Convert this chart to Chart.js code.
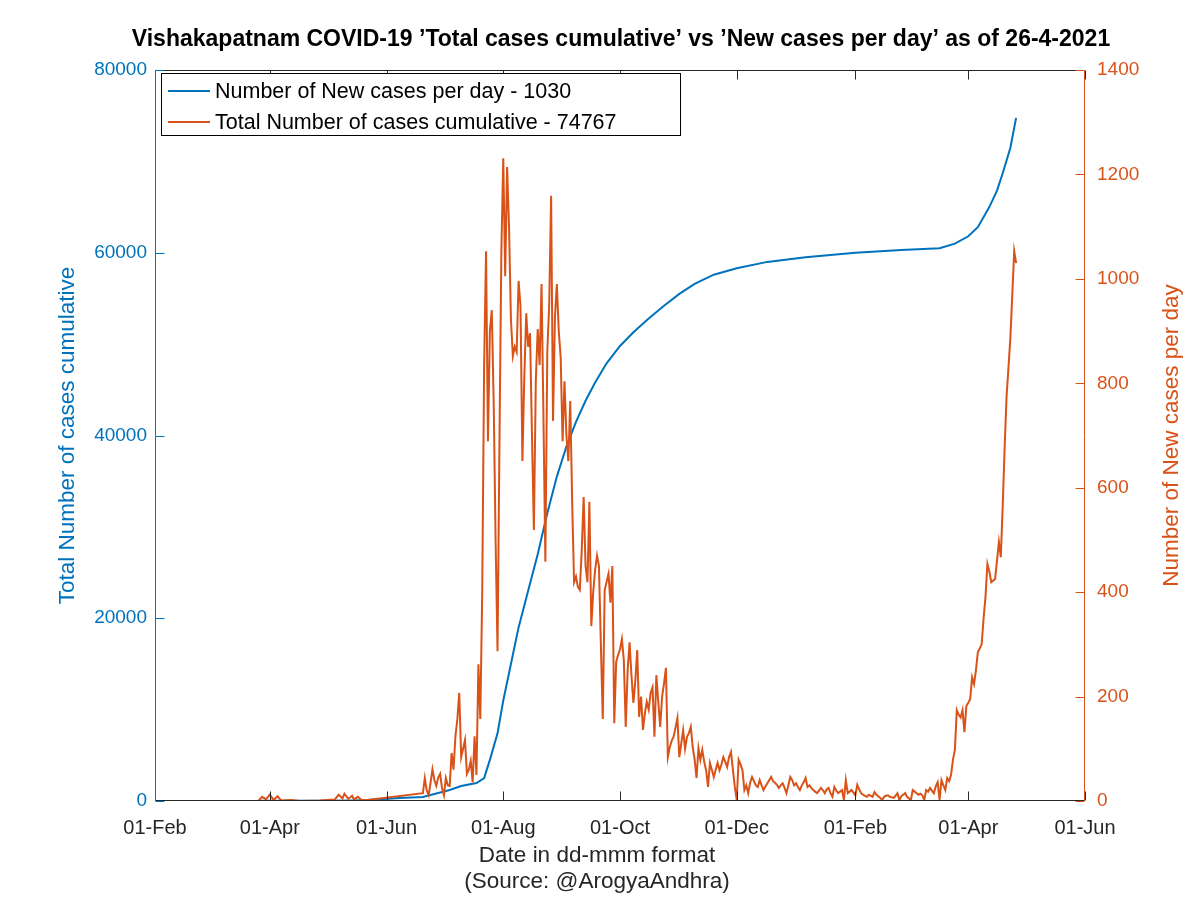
<!DOCTYPE html>
<html>
<head>
<meta charset="utf-8">
<script src="https://cdn.jsdelivr.net/npm/chart.js@4.4.1/dist/chart.umd.min.js"></script>
<style>
  body { margin: 0; background: #fff; }
  #wrap { width: 1200px; height: 898px; }
</style>
</head>
<body>
<div id="wrap"><canvas id="chart" width="1200" height="898"></canvas></div>
<script>
// x values are days since 01-Feb-2020
const tickDays = [0, 60, 121, 182, 243, 304, 366, 425, 486];
const tickLabels = ['01-Feb', '01-Apr', '01-Jun', '01-Aug', '01-Oct', '01-Dec', '01-Feb', '01-Apr', '01-Jun'];
const leftTicks = [0, 20000, 40000, 60000, 80000];
const rightTicks = [0, 200, 400, 600, 800, 1000, 1200, 1400];

// cumulative cases (blue, left axis)
const totalDays = [54, 70, 90, 104, 111, 128, 140, 154, 160, 168, 172, 175, 179, 182, 186, 190, 195, 200, 205, 210,
  215, 220, 225, 230, 236, 243, 250, 258, 266, 274, 282, 292, 304, 320, 340, 366, 390, 410, 418, 425,
  430, 436, 440, 443, 447, 450];
const totalCases = [20, 25, 35, 60, 100, 330, 440, 1200, 1640, 1970, 2500, 4500, 7400, 11000, 15000, 19000, 23000, 27000, 31500, 35500,
  38800, 41500, 43800, 45800, 47900, 49800, 51300, 52800, 54200, 55500, 56600, 57600, 58300, 59000, 59500, 60000, 60300, 60500, 61000, 61800,
  62800, 65000, 66800, 68700, 71500, 74767];

// new cases per day (orange, right axis) - sparse early reports
const earlyDays = [54, 56, 58, 60, 62, 64, 66, 71, 76, 86, 94, 96, 98, 99, 101, 103, 104, 106, 108, 111];
const earlyCases = [0, 8, 3, 12, 2, 9, 1, 2, 0, 1, 3, 12, 5, 14, 4, 10, 3, 8, 2, 2];
// then one value a day from day 140 (20-Jun-2020) to day 450 (26-Apr-2021)
const dailyStart = 140;
const dailyCases = [
  15, 44, 20, 11, 35, 61, 40, 29, 45, 52, 25, 11, 44, 30, 29, 92, 60, 124, 157, 207,
  84, 100, 117, 52, 60, 77, 36, 124, 50, 262, 157, 400, 835, 1053, 689, 900, 940, 762, 496, 287,
  682, 1053, 1231, 1005, 1214, 1101, 923, 852, 870, 860, 996, 948, 651, 812, 934, 870, 896, 700, 519, 804,
  904, 835, 990, 735, 458, 860, 950, 1159, 728, 927, 990, 900, 850, 689, 804, 700, 651, 766, 573, 419,
  430, 410, 404, 480, 582, 450, 419, 573, 335, 400, 442, 470, 450, 300, 157, 404, 420, 435, 380, 450,
  149, 266, 280, 290, 310, 270, 142, 250, 304, 240, 188, 230, 289, 161, 200, 136, 168, 190, 175, 207,
  218, 123, 241, 190, 142, 200, 225, 255, 84, 103, 115, 123, 140, 159, 84, 110, 136, 100, 123, 130,
  142, 103, 80, 44, 101, 79, 98, 75, 59, 27, 73, 60, 46, 60, 73, 59, 70, 84, 75, 65,
  84, 94, 60, 27, 2, 79, 70, 59, 21, 30, 15, 35, 46, 38, 30, 27, 40, 30, 21, 28,
  34, 40, 46, 38, 35, 31, 25, 30, 34, 25, 15, 30, 46, 40, 30, 34, 27, 21, 30, 36,
  44, 27, 30, 25, 21, 18, 15, 20, 25, 21, 15, 22, 25, 15, 8, 27, 20, 15, 18, 21,
  2, 40, 15, 18, 21, 16, 11, 31, 22, 15, 12, 10, 8, 12, 10, 8, 17, 12, 9, 6,
  2, 8, 10, 11, 8, 7, 6, 10, 15, 2, 9, 12, 15, 8, 5, 2, 21, 18, 15, 12,
  14, 11, 2, 21, 18, 25, 20, 15, 28, 36, 2, 40, 30, 21, 44, 38, 50, 79, 98, 174,
  165, 160, 174, 132, 182, 188, 195, 237, 224, 250, 285, 292, 300, 350, 391, 454, 440, 419, 422, 425,
  460, 496, 467, 565, 676, 774, 830, 887, 969, 1053, 1030
];

const BLUE = '#0072BD';
const ORANGE = '#D95319';
const DARK = '#262626';
const FONT = '"Liberation Sans", Arial, Helvetica, sans-serif';

const totalData = totalDays.map((d, i) => ({x: d, y: totalCases[i]}));
const newData = earlyDays.map((d, i) => ({x: d, y: earlyCases[i]}))
  .concat(dailyCases.map((v, i) => ({x: dailyStart + i, y: v})));

function seg(ctx, x1, y1, x2, y2) {
  ctx.beginPath();
  ctx.moveTo(x1, y1);
  ctx.lineTo(x2, y2);
  ctx.stroke();
}

// matlab style frame, inward ticks, titles and legend
const frame = {
  id: 'frame',
  afterDraw(chart) {
    const {ctx, chartArea: a, scales} = chart;
    const L = Math.round(a.left) + 0.5, R = Math.round(a.right) - 0.5;
    const T = Math.round(a.top) + 0.5, B = Math.round(a.bottom) - 0.5;
    ctx.save();
    ctx.lineWidth = 1;

    ctx.strokeStyle = DARK;
    seg(ctx, L, T, R, T);
    seg(ctx, L, B, R, B);
    tickDays.forEach((d) => {
      const px = Math.round(scales.x.getPixelForValue(d)) + 0.5;
      seg(ctx, px, B, px, B - 9);
      seg(ctx, px, T, px, T + 9);
    });

    ctx.strokeStyle = BLUE;
    seg(ctx, L, T, L, B);
    leftTicks.forEach((v) => {
      const py = Math.round(scales.y.getPixelForValue(v)) + 0.5;
      seg(ctx, L, py, L + 9, py);
    });

    ctx.strokeStyle = ORANGE;
    seg(ctx, R, T, R, B);
    rightTicks.forEach((v) => {
      const py = Math.round(scales.y1.getPixelForValue(v)) + 0.5;
      seg(ctx, R, py, R - 9, py);
    });

    // title
    ctx.textAlign = 'center';
    ctx.textBaseline = 'middle';
    ctx.fillStyle = '#000';
    ctx.font = 'bold 23px ' + FONT;
    ctx.fillText('Vishakapatnam COVID-19 \u2019Total cases cumulative\u2019 vs \u2019New cases per day\u2019 as of 26-4-2021', (a.left + a.right) / 2 + 1, 40);

    // x axis title
    ctx.fillStyle = DARK;
    ctx.font = '22.5px ' + FONT;
    ctx.fillText('Date in dd-mmm format', 597, 856);
    ctx.fillText('(Source: @ArogyaAndhra)', 597, 882);

    // y axis titles
    const midY = (a.top + a.bottom) / 2;
    ctx.save();
    ctx.translate(68, midY);
    ctx.rotate(-Math.PI / 2);
    ctx.fillStyle = BLUE;
    ctx.fillText('Total Number of cases cumulative', 0, 0);
    ctx.restore();
    ctx.save();
    ctx.translate(1172, midY);
    ctx.rotate(-Math.PI / 2);
    ctx.fillStyle = ORANGE;
    ctx.fillText('Number of New cases per day', 0, 0);
    ctx.restore();

    // legend
    ctx.fillStyle = '#fff';
    ctx.fillRect(161, 73, 519, 62);
    ctx.strokeStyle = '#000';
    ctx.strokeRect(161.5, 73.5, 519, 62);
    ctx.lineWidth = 2;
    ctx.strokeStyle = BLUE;
    seg(ctx, 168, 91, 210, 91);
    ctx.strokeStyle = ORANGE;
    seg(ctx, 168, 122, 210, 122);
    ctx.fillStyle = '#000';
    ctx.textAlign = 'left';
    ctx.font = '21.5px ' + FONT;
    ctx.fillText('Number of New cases per day - 1030', 215, 92);
    ctx.fillText('Total Number of cases cumulative - 74767', 215, 123);

    ctx.restore();
  }
};

new Chart(document.getElementById('chart'), {
  type: 'line',
  data: {
    datasets: [
      {data: newData, yAxisID: 'y1', borderColor: ORANGE, borderWidth: 2, pointRadius: 0, tension: 0, order: 1},
      {data: totalData, yAxisID: 'y', borderColor: BLUE, borderWidth: 2, pointRadius: 0, tension: 0, order: 2}
    ]
  },
  options: {
    responsive: false,
    animation: false,
    events: [],
    layout: {padding: {top: 70, left: 0, right: 0, bottom: 0}},
    plugins: {legend: {display: false}, title: {display: false}, tooltip: {enabled: false}},
    scales: {
      x: {
        type: 'linear', min: 0, max: 486,
        grid: {display: false, drawTicks: false}, border: {display: false},
        afterBuildTicks: (s) => { s.ticks = tickDays.map((v) => ({value: v})); },
        afterFit: (s) => { s.height = 97; },
        ticks: {
          autoSkip: false, maxRotation: 0, padding: 15, color: DARK,
          font: {family: FONT, size: 20},
          callback: (v) => tickLabels[tickDays.indexOf(v)]
        }
      },
      y: {
        position: 'left', min: 0, max: 80000,
        grid: {display: false, drawTicks: false}, border: {display: false},
        afterBuildTicks: (s) => { s.ticks = leftTicks.map((v) => ({value: v})); },
        afterFit: (s) => { s.width = 155; },
        ticks: {padding: 8, color: BLUE, font: {family: FONT, size: 19}, callback: (v) => String(v)}
      },
      y1: {
        position: 'right', min: 0, max: 1400,
        grid: {display: false, drawTicks: false}, border: {display: false},
        afterBuildTicks: (s) => { s.ticks = rightTicks.map((v) => ({value: v})); },
        afterFit: (s) => { s.width = 115; },
        ticks: {padding: 12, color: ORANGE, font: {family: FONT, size: 19}, callback: (v) => String(v)}
      }
    }
  },
  plugins: [frame]
});
</script>
</body>
</html>
